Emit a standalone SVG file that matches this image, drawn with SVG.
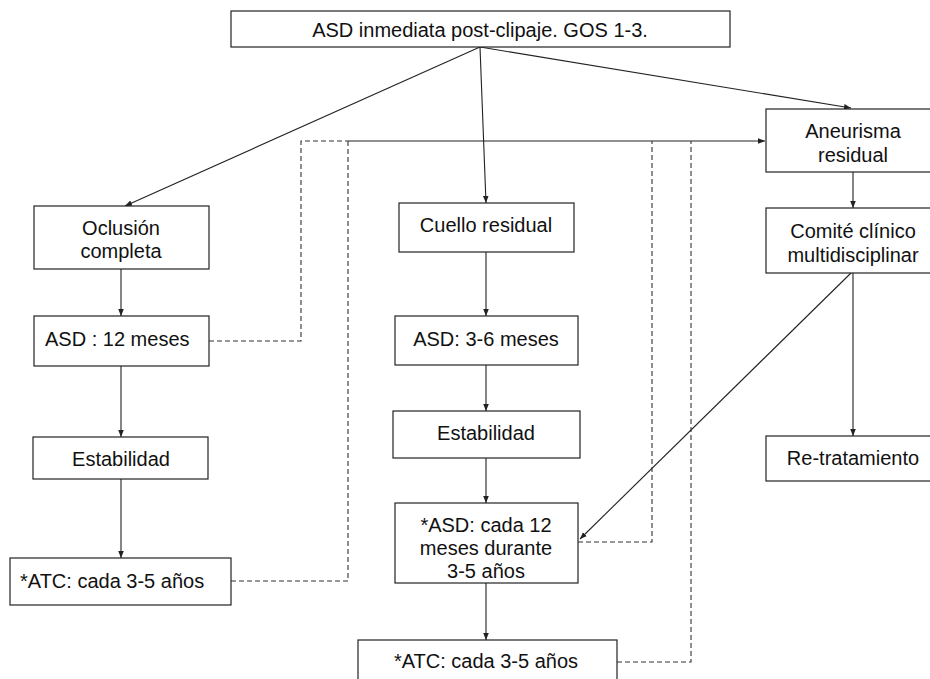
<svg xmlns="http://www.w3.org/2000/svg" width="930" height="679" viewBox="0 0 930 679">
  <style>
    .box { fill: #ffffff; stroke: #222222; stroke-width: 1.2; }
    .t { font-family: "Liberation Sans", Arial, sans-serif; font-size: 20px; fill: #111111; }
    .c { text-anchor: middle; }
    .line { fill: none; stroke: #222222; stroke-width: 1.1; }
    .arrow { marker-end: url(#head); }
    .dash { fill: none; stroke: #333333; stroke-width: 1.1; stroke-dasharray: 5 3; }
  </style>
  <defs>
    <marker id="head" viewBox="0 0 10 10" refX="10" refY="5" markerWidth="7" markerHeight="7" markerUnits="userSpaceOnUse" orient="auto">
      <path d="M0,1 L10,5 L0,9 z" fill="#222222"/>
    </marker>
  </defs>
  <rect width="930" height="679" fill="#ffffff"/>

  <!-- connectors -->
  <g id="connectors">
    <!-- from the top node -->
    <line class="line arrow" x1="480" y1="47" x2="125" y2="206"/>
    <line class="line arrow" x1="480" y1="47" x2="486" y2="203"/>
    <line class="line arrow" x1="480" y1="47" x2="851" y2="108"/>
    <!-- left column -->
    <line class="line arrow" x1="121" y1="269" x2="121" y2="316"/>
    <line class="line arrow" x1="121" y1="366" x2="121" y2="437"/>
    <line class="line arrow" x1="121" y1="479" x2="121" y2="558"/>
    <!-- centre column -->
    <line class="line arrow" x1="486" y1="252" x2="486" y2="316"/>
    <line class="line arrow" x1="486" y1="365" x2="486" y2="411"/>
    <line class="line arrow" x1="486" y1="458" x2="486" y2="503"/>
    <line class="line arrow" x1="486" y1="583" x2="486" y2="640"/>
    <!-- right column -->
    <line class="line arrow" x1="853" y1="172" x2="853" y2="208"/>
    <line class="line arrow" x1="853" y1="273" x2="853" y2="436"/>
    <line class="line arrow" x1="851" y1="273" x2="580" y2="539"/>
    <!-- return path to residual aneurysm -->
    <line class="line arrow" x1="348" y1="141" x2="765" y2="141"/>
    <polyline class="dash" points="209,341 301,341 301,141 348,141"/>
    <polyline class="dash" points="231,581 348,581 348,141"/>
    <polyline class="dash" points="578,542 652,542 652,141"/>
    <polyline class="dash" points="617,662 691,662 691,141"/>
  </g>

  <g id="n-top">
    <rect class="box" x="231" y="11" width="499" height="36"/>
    <text class="t c" x="480" y="37">ASD inmediata post-clipaje. GOS 1-3.</text>
  </g>

  <g id="n-oclusion">
    <rect class="box" x="34" y="206" width="175" height="63"/>
    <text class="t c" x="121" y="235">Oclusión</text>
    <text class="t c" x="121" y="258">completa</text>
  </g>
  <g id="n-asd12">
    <rect class="box" x="34" y="316" width="175" height="50"/>
    <text class="t" x="45" y="346">ASD : 12 meses</text>
  </g>
  <g id="n-estab-left">
    <rect class="box" x="33" y="437" width="175" height="42"/>
    <text class="t c" x="121" y="466">Estabilidad</text>
  </g>
  <g id="n-atc-left">
    <rect class="box" x="10" y="558" width="221" height="47"/>
    <text class="t" x="20" y="588">*ATC: cada 3-5 años</text>
  </g>

  <g id="n-cuello">
    <rect class="box" x="399" y="203" width="175" height="49"/>
    <text class="t c" x="486" y="232">Cuello residual</text>
  </g>
  <g id="n-asd36">
    <rect class="box" x="395" y="316" width="183" height="49"/>
    <text class="t c" x="486" y="346">ASD: 3-6 meses</text>
  </g>
  <g id="n-estab-centre">
    <rect class="box" x="393" y="411" width="187" height="47"/>
    <text class="t c" x="486" y="440">Estabilidad</text>
  </g>
  <g id="n-asd-cada12">
    <rect class="box" x="395" y="503" width="183" height="80"/>
    <text class="t c" x="486" y="532">*ASD: cada 12</text>
    <text class="t c" x="486" y="555">meses durante</text>
    <text class="t c" x="486" y="578">3-5 años</text>
  </g>
  <g id="n-atc-centre">
    <rect class="box" x="358" y="640" width="259" height="45"/>
    <text class="t c" x="486" y="668">*ATC: cada 3-5 años</text>
  </g>

  <g id="n-aneurisma">
    <rect class="box" x="766" y="109" width="170" height="63"/>
    <text class="t c" x="853" y="138">Aneurisma</text>
    <text class="t c" x="853" y="162">residual</text>
  </g>
  <g id="n-comite">
    <rect class="box" x="766" y="208" width="170" height="65"/>
    <text class="t c" x="853" y="238">Comité clínico</text>
    <text class="t c" x="853" y="262">multidisciplinar</text>
  </g>
  <g id="n-retrat">
    <rect class="box" x="766" y="436" width="170" height="45"/>
    <text class="t c" x="853" y="465">Re-tratamiento</text>
  </g>
</svg>
